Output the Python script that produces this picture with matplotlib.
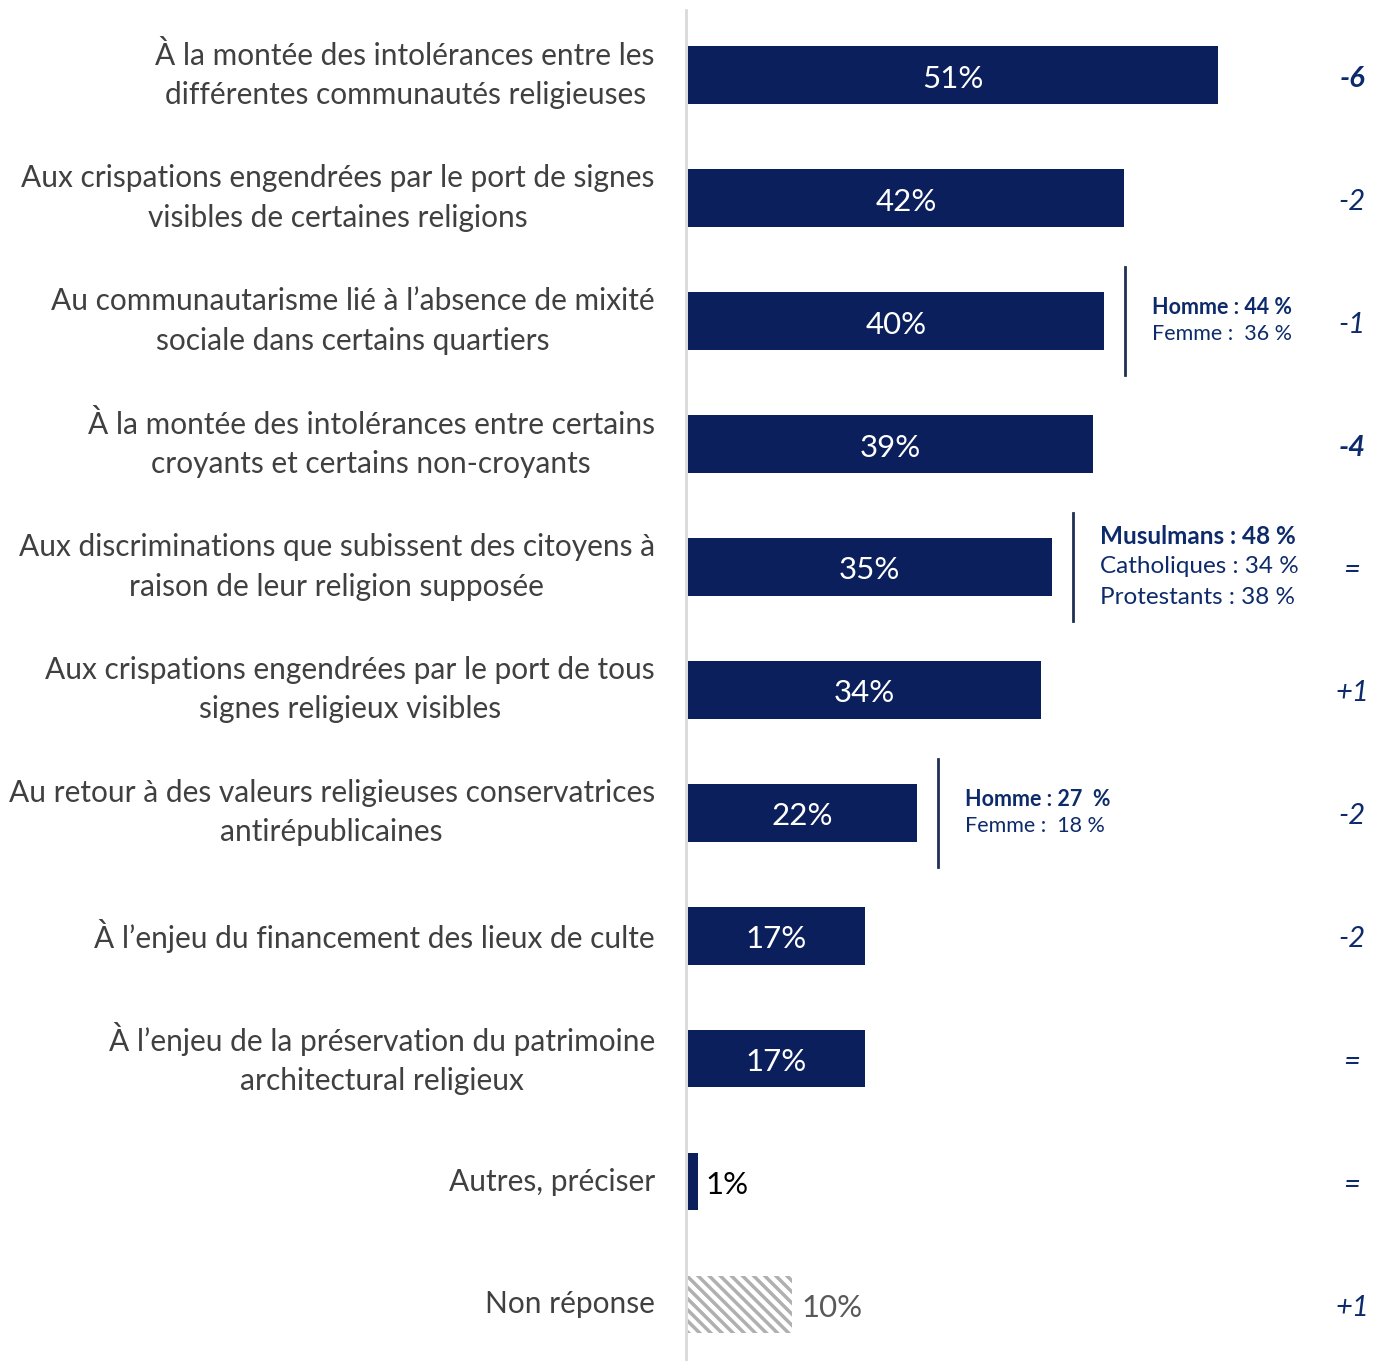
import matplotlib
matplotlib.use("Agg")
import matplotlib.pyplot as plt
from matplotlib.transforms import blended_transform_factory

plt.rcParams['font.family'] = ['Lato', 'DejaVu Sans']
plt.rcParams['hatch.linewidth'] = 2.5

categories = [
    "À la montée des intolérances entre les\ndifférentes communautés religieuses",
    "Aux crispations engendrées par le port de signes\nvisibles de certaines religions",
    "Au communautarisme lié à l’absence de mixité\nsociale dans certains quartiers",
    "À la montée des intolérances entre certains\ncroyants et certains non-croyants",
    "Aux discriminations que subissent des citoyens à\nraison de leur religion supposée",
    "Aux crispations engendrées par le port de tous\nsignes religieux visibles",
    "Au retour à des valeurs religieuses conservatrices\nantirépublicaines",
    "À l’enjeu du financement des lieux de culte",
    "À l’enjeu de la préservation du patrimoine\narchitectural religieux",
    "Autres, préciser",
    "Non réponse",
]
values = [51, 42, 40, 39, 35, 34, 22, 17, 17, 1, 10]
evolution = ["-6", "-2", "-1", "-4", "=", "+1", "-2", "-2", "=", "=", "+1"]
evolution_bold = [True, False, False, True, False, False, False, False, False, False, False]

# sub-group annotations: (bar index, [(label, bold), ...])
annotations = {
    2: [("Homme : 44 %", True), ("Femme :  36 %", False)],
    4: [("Musulmans : 48 %", True), ("Catholiques : 34 %", False), ("Protestants : 38 %", False)],
    6: [("Homme : 27  %", True), ("Femme :  18 %", False)],
}

NAVY = "#0b1f5c"
BLUE_TXT = "#0d2b6b"
GRAY_TXT = "#404040"

W, H = 1383, 1361
fig = plt.figure(figsize=(W / 100, H / 100), dpi=100)
ax = fig.add_axes([688 / W, 0, (W - 688) / W, 1])
ax.set_xlim(0, (W - 688) / 10.39)
n = len(categories)
ax.set_ylim(10.46, -0.61)
ax.axis('off')
ax.plot([-0.2, -0.2], [-0.53, 10.46], color="#d9d9d9", lw=2, clip_on=False, zorder=0)

bh = 0.47
dy = 0.03
ys = list(range(n))
for i, (y, v) in enumerate(zip(ys, values)):
    if categories[i] == "Non réponse":
        ax.barh(y, v, height=bh, color="white", edgecolor="#b0b0b0", hatch="\\\\\\", lw=0)
        ax.text(v + 0.9, y + dy, f"{v}%", ha="left", va="center", fontsize=22.5, color="#595959")
    elif v < 5:
        ax.barh(y, v, height=bh, color=NAVY, lw=0)
        ax.text(v + 0.7, y + dy, f"{v}%", ha="left", va="center", fontsize=22.5, color="black")
    else:
        ax.barh(y, v, height=bh, color=NAVY, lw=0)
        ax.text(v / 2, y + dy, f"{v}%", ha="center", va="center", fontsize=22.5, color="white")
    ax.text(-3.2, y, categories[i], ha="right", va="center", multialignment="center",
            fontsize=21.5, color=GRAY_TXT, linespacing=1.5)

tr = blended_transform_factory(fig.transFigure, ax.transData)
for y, e, b in zip(ys, evolution, evolution_bold):
    ax.text(1352 / W, y + dy, e, transform=tr, ha="center", va="center", fontsize=21,
            style="italic", fontweight="bold" if b else "normal", color=BLUE_TXT)

for i, lines in annotations.items():
    v = values[i]
    xl = v + 2.1
    ax.plot([xl, xl], [i - 0.44, i + 0.44], color="#1f2f55", lw=2)
    nl = len(lines)
    fs = 17.5 if nl == 3 else 15.5
    step = 0.25 if nl == 3 else 0.21
    for k, (txt, bold) in enumerate(lines):
        yy = i + (k - (nl - 1) / 2) * step
        ax.text(xl + 2.6, yy, txt, ha="left", va="center", fontsize=fs,
                fontweight="bold" if bold else "normal", color=BLUE_TXT)

fig.savefig("out.png", dpi=100, facecolor="white")
